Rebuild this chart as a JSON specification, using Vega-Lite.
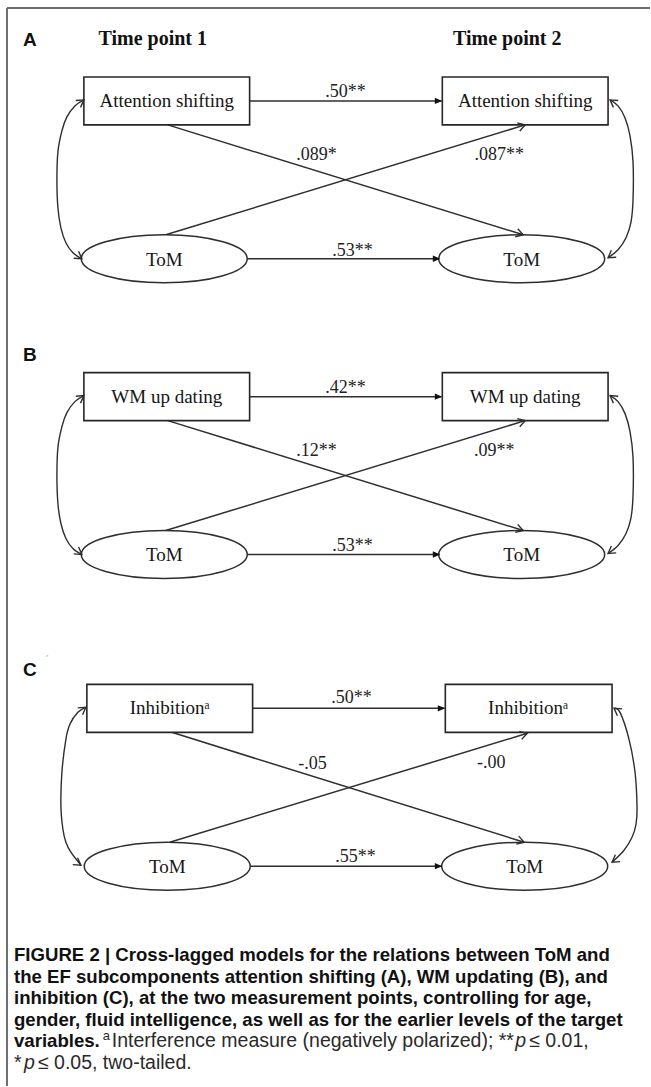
{
  "$schema": "https://vega.github.io/schema/vega-lite/v6.json",
  "width": 651,
  "height": 1087,
  "autosize": {"type": "fit", "contains": "padding"},
  "padding": 0,
  "background": "white",
  "config": {"view": {"stroke": null}, "axis": {"disable": true}},
  "datasets": {
    "frame": [
      {"x": 7, "y": 8, "x2": 7, "y2": 1087},
      {"x": 7, "y": 8, "x2": 651, "y2": 8}
    ],
    "boxes": [
      {"x": 84, "y": 77, "x2": 250, "y2": 125},
      {"x": 443, "y": 77, "x2": 609, "y2": 125},
      {"x": 84, "y": 373, "x2": 250, "y2": 421},
      {"x": 443, "y": 373, "x2": 609, "y2": 421},
      {"x": 87, "y": 685, "x2": 253, "y2": 733},
      {"x": 446, "y": 685, "x2": 613, "y2": 733}
    ],
    "edges": [
      {"x": 250, "y": 101, "x2": 442, "y2": 101},
      {"x": 247, "y": 259, "x2": 440, "y2": 259},
      {"x": 168, "y": 125, "x2": 524, "y2": 235},
      {"x": 166, "y": 235, "x2": 526, "y2": 125},
      {"x": 250, "y": 397, "x2": 442, "y2": 397},
      {"x": 247, "y": 555, "x2": 440, "y2": 555},
      {"x": 168, "y": 421, "x2": 524, "y2": 531},
      {"x": 166, "y": 531, "x2": 526, "y2": 421},
      {"x": 253, "y": 709, "x2": 445, "y2": 709},
      {"x": 251, "y": 867, "x2": 442, "y2": 867},
      {"x": 172, "y": 733, "x2": 525, "y2": 843},
      {"x": 170, "y": 843, "x2": 528, "y2": 734}
    ],
    "curves": [
      {"c": "LA", "i": 0, "x": 84, "y": 100}, {"c": "LA", "i": 1, "x": 75, "y": 106}, {"c": "LA", "i": 2, "x": 67, "y": 117}, {"c": "LA", "i": 3, "x": 62, "y": 131}, {"c": "LA", "i": 4, "x": 58, "y": 152}, {"c": "LA", "i": 5, "x": 57, "y": 180}, {"c": "LA", "i": 6, "x": 58, "y": 208}, {"c": "LA", "i": 7, "x": 61, "y": 228}, {"c": "LA", "i": 8, "x": 66, "y": 243}, {"c": "LA", "i": 9, "x": 73, "y": 253}, {"c": "LA", "i": 10, "x": 82, "y": 259},
      {"c": "RA", "i": 0, "x": 611, "y": 100}, {"c": "RA", "i": 1, "x": 619, "y": 106}, {"c": "RA", "i": 2, "x": 626, "y": 118}, {"c": "RA", "i": 3, "x": 631, "y": 136}, {"c": "RA", "i": 4, "x": 634, "y": 162}, {"c": "RA", "i": 5, "x": 634, "y": 200}, {"c": "RA", "i": 6, "x": 632, "y": 222}, {"c": "RA", "i": 7, "x": 627, "y": 238}, {"c": "RA", "i": 8, "x": 619, "y": 250}, {"c": "RA", "i": 9, "x": 609, "y": 258},
      {"c": "LB", "i": 0, "x": 84, "y": 396}, {"c": "LB", "i": 1, "x": 75, "y": 402}, {"c": "LB", "i": 2, "x": 67, "y": 413}, {"c": "LB", "i": 3, "x": 62, "y": 427}, {"c": "LB", "i": 4, "x": 58, "y": 448}, {"c": "LB", "i": 5, "x": 57, "y": 476}, {"c": "LB", "i": 6, "x": 58, "y": 504}, {"c": "LB", "i": 7, "x": 61, "y": 524}, {"c": "LB", "i": 8, "x": 66, "y": 539}, {"c": "LB", "i": 9, "x": 73, "y": 549}, {"c": "LB", "i": 10, "x": 82, "y": 555},
      {"c": "RB", "i": 0, "x": 611, "y": 396}, {"c": "RB", "i": 1, "x": 619, "y": 402}, {"c": "RB", "i": 2, "x": 626, "y": 414}, {"c": "RB", "i": 3, "x": 631, "y": 432}, {"c": "RB", "i": 4, "x": 634, "y": 458}, {"c": "RB", "i": 5, "x": 634, "y": 496}, {"c": "RB", "i": 6, "x": 632, "y": 518}, {"c": "RB", "i": 7, "x": 627, "y": 534}, {"c": "RB", "i": 8, "x": 619, "y": 546}, {"c": "RB", "i": 9, "x": 609, "y": 554},
      {"c": "LC", "i": 0, "x": 86, "y": 708}, {"c": "LC", "i": 1, "x": 78, "y": 713}, {"c": "LC", "i": 2, "x": 70, "y": 725}, {"c": "LC", "i": 3, "x": 66, "y": 740}, {"c": "LC", "i": 4, "x": 62, "y": 773}, {"c": "LC", "i": 5, "x": 61, "y": 807}, {"c": "LC", "i": 6, "x": 63, "y": 830}, {"c": "LC", "i": 7, "x": 66, "y": 843}, {"c": "LC", "i": 8, "x": 71, "y": 853}, {"c": "LC", "i": 9, "x": 81, "y": 866},
      {"c": "RC", "i": 0, "x": 615, "y": 709}, {"c": "RC", "i": 1, "x": 621, "y": 713}, {"c": "RC", "i": 2, "x": 630, "y": 740}, {"c": "RC", "i": 3, "x": 636, "y": 773}, {"c": "RC", "i": 4, "x": 638, "y": 807}, {"c": "RC", "i": 5, "x": 637, "y": 825}, {"c": "RC", "i": 6, "x": 633, "y": 838}, {"c": "RC", "i": 7, "x": 625, "y": 851}, {"c": "RC", "i": 8, "x": 613, "y": 863}
    ],
    "ellipses": [
      {"x": 164.5, "y": 259}, {"x": 522.5, "y": 259},
      {"x": 164.5, "y": 555}, {"x": 522.5, "y": 555},
      {"x": 167.5, "y": 867}, {"x": 525.5, "y": 867}
    ],
    "chevrons": [
      {"x": 84, "y": 100, "a": -35}, {"x": 82, "y": 259, "a": 35}, {"x": 611, "y": 100, "a": 215}, {"x": 609, "y": 258, "a": 145}, {"x": 524, "y": 235, "a": 17.3}, {"x": 526, "y": 125, "a": -17.1},
      {"x": 84, "y": 396, "a": -35}, {"x": 82, "y": 555, "a": 35}, {"x": 611, "y": 396, "a": 215}, {"x": 609, "y": 554, "a": 145}, {"x": 524, "y": 531, "a": 17.3}, {"x": 526, "y": 421, "a": -17.1},
      {"x": 86, "y": 708, "a": -35}, {"x": 81, "y": 866, "a": 35}, {"x": 615, "y": 709, "a": 215}, {"x": 613, "y": 863, "a": 145}, {"x": 525, "y": 843, "a": 17.3}, {"x": 528, "y": 734, "a": -17.1}
    ],
    "tris": [
      {"x": 443, "y": 101}, {"x": 441, "y": 259},
      {"x": 443, "y": 397}, {"x": 441, "y": 555},
      {"x": 446, "y": 709}, {"x": 443, "y": 867}
    ],
    "nodes": [
      {"x": 167, "y": 101, "t": "Attention shifting"}, {"x": 526, "y": 101, "t": "Attention shifting"},
      {"x": 164.5, "y": 260, "t": "ToM"}, {"x": 522.5, "y": 260, "t": "ToM"},
      {"x": 167, "y": 397, "t": "WM up dating"}, {"x": 526, "y": 397, "t": "WM up dating"},
      {"x": 164.5, "y": 556, "t": "ToM"}, {"x": 522.5, "y": 556, "t": "ToM"},
      {"x": 170, "y": 709, "t": "Inhibitionᵃ"}, {"x": 529, "y": 709, "t": "Inhibitionᵃ"},
      {"x": 167.5, "y": 868, "t": "ToM"}, {"x": 525.5, "y": 868, "t": "ToM"}
    ],
    "coefs": [
      {"x": 346, "y": 92, "t": ".50**"}, {"x": 317, "y": 155, "t": ".089*"}, {"x": 500, "y": 155, "t": ".087**"}, {"x": 353, "y": 251, "t": ".53**"},
      {"x": 346, "y": 388, "t": ".42**"}, {"x": 317, "y": 451, "t": ".12**"}, {"x": 495, "y": 451, "t": ".09**"}, {"x": 353, "y": 547, "t": ".53**"},
      {"x": 352, "y": 699, "t": ".50**"}, {"x": 313, "y": 765, "t": "-.05"}, {"x": 492, "y": 764, "t": "-.00"}, {"x": 356, "y": 858, "t": ".55**"}
    ],
    "panels": [
      {"x": 23, "y": 46, "t": "A"}, {"x": 23, "y": 361, "t": "B"}, {"x": 23, "y": 677, "t": "C"}
    ],
    "times": [
      {"x": 153, "y": 45, "t": "Time point 1"}, {"x": 508, "y": 45, "t": "Time point 2"}
    ],
    "stray": [
      {"x": 45, "y": 662, "t": "ˊ"}
    ],
    "capBold": [
      {"x": 14, "y": 962, "t": "FIGURE 2 | Cross-lagged models for the relations between ToM and"},
      {"x": 14, "y": 983.5, "t": "the EF subcomponents attention shifting (A), WM updating (B), and"},
      {"x": 14, "y": 1005, "t": "inhibition (C), at the two measurement points, controlling for age,"},
      {"x": 14, "y": 1027, "t": "gender, fluid intelligence, as well as for the earlier levels of the target"},
      {"x": 14, "y": 1048, "t": "variables."}
    ],
    "capLight": [
      {"x": 112, "y": 1048, "t": "Interference measure (negatively polarized); **"},
      {"x": 530, "y": 1048, "t": "≤ 0.01,"},
      {"x": 14, "y": 1070, "t": "*"},
      {"x": 38, "y": 1070, "t": "≤ 0.05, two-tailed."}
    ],
    "capItal": [
      {"x": 516, "y": 1048, "t": "p"},
      {"x": 24, "y": 1070, "t": "p"}
    ],
    "capSup": [
      {"x": 103, "y": 1041, "t": "a"}
    ]
  },
  "encoding": {
    "x": {"field": "x", "type": "quantitative", "scale": {"domain": [0, 651], "nice": false, "zero": false}},
    "y": {"field": "y", "type": "quantitative", "scale": {"domain": [0, 1087], "nice": false, "zero": false, "reverse": true}}
  },
  "layer": [
    {
      "data": {"name": "frame"},
      "mark": {"type": "rule", "stroke": "#6e6e6e", "strokeWidth": 2},
      "encoding": {"x2": {"field": "x2"}, "y2": {"field": "y2"}}
    },
    {
      "data": {"name": "edges"},
      "mark": {"type": "rule", "stroke": "#2e2e2e", "strokeWidth": 1.5},
      "encoding": {"x2": {"field": "x2"}, "y2": {"field": "y2"}}
    },
    {
      "data": {"name": "curves"},
      "mark": {"type": "line", "interpolate": "cardinal", "stroke": "#2e2e2e", "strokeWidth": 1.4},
      "encoding": {"detail": {"field": "c", "type": "nominal"}, "order": {"field": "i", "type": "quantitative"}}
    },
    {
      "data": {"name": "boxes"},
      "mark": {"type": "rect", "fill": "white", "stroke": "#262626", "strokeWidth": 1.6},
      "encoding": {"x2": {"field": "x2"}, "y2": {"field": "y2"}}
    },
    {
      "data": {"name": "ellipses"},
      "mark": {"type": "point", "shape": "M -1 0 A 1 0.2892 0 1 0 1 0 A 1 0.2892 0 1 0 -1 0 Z", "size": 27556, "filled": true, "fill": "white", "stroke": "#2e2e2e", "strokeWidth": 1.5, "opacity": 1},
      "encoding": {}
    },
    {
      "data": {"name": "chevrons"},
      "mark": {"type": "point", "shape": "M -1 -0.6 L 0 0 L -1 0.6", "size": 196, "filled": false, "stroke": "#2e2e2e", "strokeWidth": 1.4, "opacity": 1},
      "encoding": {"angle": {"field": "a", "type": "quantitative", "scale": null}}
    },
    {
      "data": {"name": "tris"},
      "mark": {"type": "point", "shape": "M -1 -0.42 L 0 0 L -1 0.42 Z", "size": 225, "filled": true, "color": "#111111", "opacity": 1},
      "encoding": {}
    },
    {
      "data": {"name": "nodes"},
      "mark": {"type": "text", "font": "Liberation Serif", "fontSize": 19, "align": "center", "baseline": "middle", "color": "#151515"},
      "encoding": {"text": {"field": "t"}}
    },
    {
      "data": {"name": "coefs"},
      "mark": {"type": "text", "font": "Liberation Serif", "fontSize": 18, "align": "center", "baseline": "middle", "color": "#222222"},
      "encoding": {"text": {"field": "t"}}
    },
    {
      "data": {"name": "panels"},
      "mark": {"type": "text", "font": "Liberation Sans", "fontSize": 19, "fontWeight": "bold", "align": "left", "baseline": "alphabetic", "color": "#111111"},
      "encoding": {"text": {"field": "t"}}
    },
    {
      "data": {"name": "times"},
      "mark": {"type": "text", "font": "Liberation Serif", "fontSize": 20, "fontWeight": "bold", "align": "center", "baseline": "alphabetic", "color": "#111111"},
      "encoding": {"text": {"field": "t"}}
    },
    {
      "data": {"name": "stray"},
      "mark": {"type": "text", "font": "Liberation Sans", "fontSize": 12, "align": "left", "baseline": "middle", "color": "#bbbbbb"},
      "encoding": {"text": {"field": "t"}}
    },
    {
      "data": {"name": "capBold"},
      "mark": {"type": "text", "font": "Liberation Sans", "fontSize": 18.6, "fontWeight": "bold", "align": "left", "baseline": "alphabetic", "color": "#111111"},
      "encoding": {"text": {"field": "t"}}
    },
    {
      "data": {"name": "capLight"},
      "mark": {"type": "text", "font": "Liberation Sans", "fontSize": 19.5, "align": "left", "baseline": "alphabetic", "color": "#2a2a2a"},
      "encoding": {"text": {"field": "t"}}
    },
    {
      "data": {"name": "capItal"},
      "mark": {"type": "text", "font": "Liberation Sans", "fontSize": 19.5, "fontStyle": "italic", "align": "left", "baseline": "alphabetic", "color": "#2a2a2a"},
      "encoding": {"text": {"field": "t"}}
    },
    {
      "data": {"name": "capSup"},
      "mark": {"type": "text", "font": "Liberation Sans", "fontSize": 13, "align": "left", "baseline": "alphabetic", "color": "#2a2a2a"},
      "encoding": {"text": {"field": "t"}}
    }
  ]
}
